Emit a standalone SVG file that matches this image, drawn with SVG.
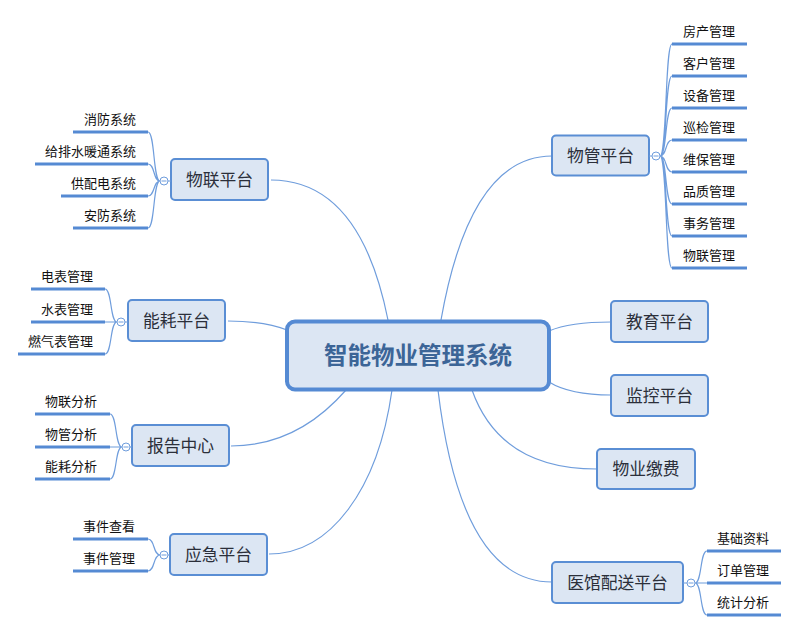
<svg xmlns="http://www.w3.org/2000/svg" width="799" height="632" viewBox="0 0 799 632">
<style>
.conn{fill:none;stroke:#6f9ddc;stroke-width:1.2}
.brace{fill:none;stroke:#6f9ddc;stroke-width:1.2}
.leafline{stroke:#558ad3;stroke-width:3}
.box{fill:#dce6f3;stroke:#5a8ed4;stroke-width:2}
.ntext{font-family:"Noto Sans CJK SC","Microsoft YaHei",sans-serif;font-size:16.8px;fill:#2b2f3a;text-anchor:middle}
.ltext{font-family:"Noto Sans CJK SC","Microsoft YaHei",sans-serif;font-size:13px;fill:#111}
.r{text-anchor:end}
.tog{fill:#fff;stroke:#6f9ddc;stroke-width:1}
</style>
<rect width="799" height="632" fill="#fff"/>
<g id="connectors">
<path class="conn" d="M441,320 Q470,156 552,156"/>
<path class="conn" d="M388,320 Q360,180 271,180"/>
<path class="conn" d="M287,330 Q265,321 228,321"/>
<path class="conn" d="M346,390 Q297,446 231,446"/>
<path class="conn" d="M392,390 C378,490 330,554 269,554"/>
<path class="conn" d="M549,331 Q570,322 611,322"/>
<path class="conn" d="M549,382 Q570,395 611,395"/>
<path class="conn" d="M472,390 Q500,469 597,469"/>
<path class="conn" d="M438,390 C450,490 480,582 552,582"/>
</g>
<g id="center">
<rect x="287" y="321.5" width="262" height="68" rx="8" fill="#dce6f3" stroke="#558ad3" stroke-width="4"/>
<text x="418" y="364" font-family="Noto Sans CJK SC, Microsoft YaHei, sans-serif" font-size="23.5" font-weight="bold" fill="#3c6597" text-anchor="middle">智能物业管理系统</text>
</g>
<g id="wuguan">
<rect class="box" x="552" y="135.5" width="97" height="40" rx="4"/>
<text class="ntext" x="600.5" y="161.8">物管平台</text>
<line x1="649" y1="156" x2="652" y2="156" stroke="#6f9ddc"/>
<path class="brace" d="M660,156 C667,156 665,44 672,44 M660,156 C667,156 665,76 672,76 M660,156 C667,156 665,108 672,108 M660,156 C667,156 665,140 672,140 M660,156 C667,156 665,172 672,172 M660,156 C667,156 665,204 672,204 M660,156 C667,156 665,236 672,236 M660,156 C667,156 665,268 672,268"/>
<circle class="tog" cx="656" cy="156" r="4"/><line x1="653.5" y1="156" x2="658.5" y2="156" stroke="#6f9ddc"/>
<g class="leafline"><line x1="672" y1="44" x2="747" y2="44"/><line x1="672" y1="76" x2="747" y2="76"/><line x1="672" y1="108" x2="747" y2="108"/><line x1="672" y1="140" x2="747" y2="140"/><line x1="672" y1="172" x2="747" y2="172"/><line x1="672" y1="204" x2="747" y2="204"/><line x1="672" y1="236" x2="747" y2="236"/><line x1="672" y1="268" x2="747" y2="268"/></g>
<text class="ltext" x="683" y="36">房产管理</text>
<text class="ltext" x="683" y="68">客户管理</text>
<text class="ltext" x="683" y="100">设备管理</text>
<text class="ltext" x="683" y="132">巡检管理</text>
<text class="ltext" x="683" y="164">维保管理</text>
<text class="ltext" x="683" y="196">品质管理</text>
<text class="ltext" x="683" y="228">事务管理</text>
<text class="ltext" x="683" y="260">物联管理</text>
</g>
<g id="jiaoyu">
<rect class="box" x="611" y="301" width="97" height="41" rx="4"/>
<text class="ntext" x="659.5" y="327.8">教育平台</text>
</g>
<g id="jiankong">
<rect class="box" x="611" y="375" width="97" height="41" rx="4"/>
<text class="ntext" x="659.5" y="401.8">监控平台</text>
</g>
<g id="jiaofei">
<rect class="box" x="597" y="449" width="98" height="40" rx="4"/>
<text class="ntext" x="646" y="475.3">物业缴费</text>
</g>
<g id="yiguan">
<rect class="box" x="552" y="562" width="131" height="41" rx="4"/>
<text class="ntext" x="617.5" y="588.8">医馆配送平台</text>
<line x1="683" y1="583" x2="687" y2="583" stroke="#6f9ddc"/>
<path class="brace" d="M695,583 C702,583 700,551 707,551 M695,583 L707,583 M695,583 C702,583 700,615 707,615"/>
<circle class="tog" cx="691" cy="583" r="4"/><line x1="688.5" y1="583" x2="693.5" y2="583" stroke="#6f9ddc"/>
<g class="leafline"><line x1="707" y1="551" x2="781" y2="551"/><line x1="707" y1="583" x2="781" y2="583"/><line x1="707" y1="615" x2="781" y2="615"/></g>
<text class="ltext" x="717" y="543">基础资料</text>
<text class="ltext" x="717" y="575">订单管理</text>
<text class="ltext" x="717" y="607">统计分析</text>
</g>
<g id="wulian">
<rect class="box" x="171" y="159" width="97" height="41" rx="4"/>
<text class="ntext" x="219.5" y="185.8">物联平台</text>
<line x1="171" y1="181" x2="168" y2="181" stroke="#6f9ddc"/>
<path class="brace" d="M160,181 C153,181 155,132 148,132 M160,181 C153,181 155,164 148,164 M160,181 C153,181 155,196 148,196 M160,181 C153,181 155,228 148,228"/>
<circle class="tog" cx="164" cy="181" r="4"/><line x1="161.5" y1="181" x2="166.5" y2="181" stroke="#6f9ddc"/>
<g class="leafline"><line x1="73" y1="132" x2="148" y2="132"/><line x1="35" y1="164" x2="148" y2="164"/><line x1="61" y1="196" x2="148" y2="196"/><line x1="73" y1="228" x2="148" y2="228"/></g>
<text class="ltext r" x="136" y="124">消防系统</text>
<text class="ltext r" x="136" y="156">给排水暖通系统</text>
<text class="ltext r" x="136" y="188">供配电系统</text>
<text class="ltext r" x="136" y="220">安防系统</text>
</g>
<g id="nenghao">
<rect class="box" x="128" y="300" width="97" height="41" rx="4"/>
<text class="ntext" x="176.5" y="326.8">能耗平台</text>
<line x1="128" y1="322" x2="125" y2="322" stroke="#6f9ddc"/>
<path class="brace" d="M117,322 C110,322 112,289 105,289 M117,322 L105,322 M117,322 C110,322 112,354 105,354"/>
<circle class="tog" cx="121" cy="322" r="4"/><line x1="118.5" y1="322" x2="123.5" y2="322" stroke="#6f9ddc"/>
<g class="leafline"><line x1="31" y1="289" x2="105" y2="289"/><line x1="31" y1="322" x2="105" y2="322"/><line x1="18" y1="354" x2="105" y2="354"/></g>
<text class="ltext r" x="93" y="281">电表管理</text>
<text class="ltext r" x="93" y="314">水表管理</text>
<text class="ltext r" x="93" y="346">燃气表管理</text>
</g>
<g id="baogao">
<rect class="box" x="132" y="425" width="97" height="41" rx="4"/>
<text class="ntext" x="180.5" y="451.8">报告中心</text>
<line x1="132" y1="447" x2="130" y2="447" stroke="#6f9ddc"/>
<path class="brace" d="M122,447 C115,447 117,414 110,414 M122,447 L110,447 M122,447 C115,447 117,479 110,479"/>
<circle class="tog" cx="126" cy="447" r="4"/><line x1="123.5" y1="447" x2="128.5" y2="447" stroke="#6f9ddc"/>
<g class="leafline"><line x1="35" y1="414" x2="110" y2="414"/><line x1="35" y1="447" x2="110" y2="447"/><line x1="35" y1="479" x2="110" y2="479"/></g>
<text class="ltext r" x="97" y="406">物联分析</text>
<text class="ltext r" x="97" y="439">物管分析</text>
<text class="ltext r" x="97" y="471">能耗分析</text>
</g>
<g id="yingji">
<rect class="box" x="170" y="534" width="97" height="41" rx="4"/>
<text class="ntext" x="218.5" y="560.8">应急平台</text>
<line x1="170" y1="555" x2="168" y2="555" stroke="#6f9ddc"/>
<path class="brace" d="M160,555 C153,555 155,539 148,539 M160,555 C153,555 155,571 148,571"/>
<circle class="tog" cx="164" cy="555" r="4"/><line x1="161.5" y1="555" x2="166.5" y2="555" stroke="#6f9ddc"/>
<g class="leafline"><line x1="73" y1="539" x2="148" y2="539"/><line x1="73" y1="571" x2="148" y2="571"/></g>
<text class="ltext r" x="135" y="531">事件查看</text>
<text class="ltext r" x="135" y="563">事件管理</text>
</g>
</svg>
